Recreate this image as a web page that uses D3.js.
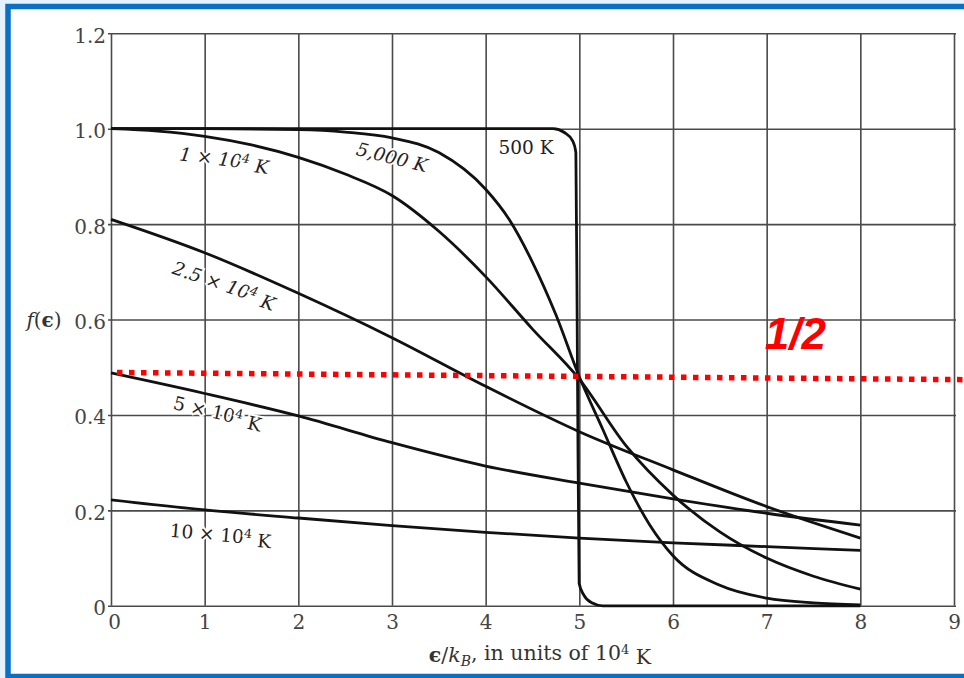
<!DOCTYPE html>
<html>
<head>
<meta charset="utf-8">
<script src="https://cdn.jsdelivr.net/npm/d3@7"></script>
<style>
  html, body { margin: 0; padding: 0; background: #e4f2fc; }
  svg { display: block; }
  .tick text { font-family: "DejaVu Serif", serif; font-size: 20px; fill: #444; }
</style>
</head>
<body>
<div id="chart"></div>
<script>
// Values: energy in units of 10^4 K, occupancy f.
const xTicks = [0, 1, 2, 3, 4, 5, 6, 7, 8, 9];
const yTicks = [0, 0.2, 0.4, 0.6, 0.8, 1.0, 1.2];
const yTickLabels = ["0", "0.2", "0.4", "0.6", "0.8", "1.0", "1.2"];

const x500 = [0, 1, 2, 3, 4, 4.5, 4.72, 4.84, 4.93, 4.963, 4.98, 4.998, 5.045, 5.132, 5.25, 6, 7, 8];
const f500 = [1, 1, 1, 1, 1, 1, 1, 0.992, 0.974, 0.95, 0.5, 0.047, 0.0235, 0.0063, 0, 0, 0, 0];

const x5000 = [0, 1, 2, 2.5, 3, 3.5, 4, 4.25, 4.5, 4.75, 5, 5.25, 5.5, 5.75, 6, 6.5, 7, 7.5, 8];
const f5000 = [1, 1, 0.998, 0.993, 0.981, 0.95, 0.873, 0.81, 0.72, 0.61, 0.48, 0.37, 0.26, 0.17, 0.105, 0.043, 0.016, 0.006, 0.002];

const x1e4 = [0, 0.5, 1, 1.5, 2, 2.5, 3, 3.5, 4, 4.5, 5, 5.5, 6, 6.5, 7, 7.5, 8];
const f1e4 = [1.0, 0.995, 0.984, 0.966, 0.94, 0.905, 0.86, 0.785, 0.69, 0.58, 0.475, 0.335, 0.232, 0.155, 0.1, 0.062, 0.035];

const xWide = [0, 1, 2, 3, 4, 5, 6, 7, 8];
const f25e4 = [0.81, 0.74, 0.655, 0.562, 0.46, 0.365, 0.285, 0.208, 0.142];
const f5e4 = [0.488, 0.445, 0.398, 0.342, 0.293, 0.257, 0.224, 0.194, 0.169];
const f10e4 = [0.222, 0.201, 0.184, 0.168, 0.154, 0.142, 0.132, 0.124, 0.116];

// curve labels: position in data units, rotation, text parts
const curveLabels = [
  { x: 1.21, y: 0.936, rot: 7, italic: true, main: "1 × 10", sup: "4", tail: " K" },
  { x: 1.21, y: 0.673, rot: 19, italic: true, main: "2.5 × 10", sup: "4", tail: " K" },
  { x: 3.0, y: 0.94, rot: 14, italic: true, main: "5,000 K", sup: "", tail: "" },
  { x: 4.43, y: 0.961, rot: 0, italic: false, main: "500 K", sup: "", tail: "" },
  { x: 1.14, y: 0.405, rot: 13, italic: false, main: "5 × 10", sup: "4", tail: " K" },
  { x: 1.17, y: 0.149, rot: 5, italic: false, main: "10 × 10", sup: "4", tail: " K" }
];

// red hand-drawn "1/2" marker
const halfX = [0.064, 9.1];
const halfY = [0.489, 0.474];
const halfText = { x: 6.98, y: 0.539, text: "1/2" };

const width = 964, height = 678;
const plotLeft = 111, plotRight = 954, plotTop = 33.3, plotBottom = 605.8;

const svg = d3.select("#chart").append("svg")
  .attr("width", width)
  .attr("height", height);

// slide frame
svg.append("rect")
  .attr("x", 8).attr("y", 6.5)
  .attr("width", 1000).attr("height", 670)
  .attr("fill", "white")
  .attr("stroke", "#0b6fc3")
  .attr("stroke-width", 5.5);

const x = d3.scaleLinear().domain([0, 9]).range([plotLeft, plotRight]);
const y = d3.scaleLinear().domain([0, 1.2]).range([plotBottom, plotTop]);

// grid
svg.append("g")
  .attr("transform", "translate(0," + plotBottom + ")")
  .call(d3.axisBottom(x).tickValues(xTicks).tickSize(-(plotBottom - plotTop)).tickFormat(""))
  .call(g => g.select(".domain").remove())
  .call(g => g.selectAll("line").attr("stroke", "#4a4a4a").attr("stroke-width", 1.6));

svg.append("g")
  .attr("transform", "translate(" + (plotLeft - 3) + ",0)")
  .call(d3.axisLeft(y).tickValues(yTicks).tickSize(-(plotRight - plotLeft + 5)).tickFormat(""))
  .call(g => g.select(".domain").remove())
  .call(g => g.selectAll("line").attr("stroke", "#4a4a4a").attr("stroke-width", 1.6));

// tick labels
svg.append("g")
  .attr("transform", "translate(" + plotLeft + ",0)")
  .call(d3.axisLeft(y).tickValues(yTicks).tickSize(0).tickPadding(5)
    .tickFormat((d, i) => yTickLabels[i]))
  .call(g => g.select(".domain").remove())
  .call(g => g.selectAll("text").attr("dy", "0.45em"));

svg.append("g")
  .attr("transform", "translate(0," + plotBottom + ")")
  .call(d3.axisBottom(x).tickValues(xTicks).tickSize(0).tickPadding(9).tickFormat(d3.format("d")))
  .call(g => g.select(".domain").remove())
  .call(g => g.selectAll("text").attr("dx", (d) => d === 0 ? "0.15em" : 0));

// curve labels, white halo breaks the grid under them (drawn before the curves)
const lab = svg.append("g").selectAll("text")
  .data(curveLabels)
  .enter()
  .append("text")
    .attr("transform", d => "translate(" + x(d.x) + "," + y(d.y) + ") rotate(" + d.rot + ")")
    .attr("text-anchor", "middle")
    .attr("dy", "0.35em")
    .attr("font-family", "DejaVu Serif, serif")
    .attr("font-size", 18.5)
    .attr("font-style", d => d.italic ? "italic" : "normal")
    .attr("fill", "#222")
    .attr("stroke", "white")
    .attr("stroke-width", 4)
    .attr("paint-order", "stroke");

lab.append("tspan").text(d => d.main);
lab.append("tspan").attr("dy", "-0.45em").attr("font-size", 12.5).text(d => d.sup);
lab.append("tspan").attr("dy", d => d.sup ? "0.45em" : 0).text(d => d.tail);

// curves
const series = [
  { xs: x500, fs: f500 },
  { xs: x5000, fs: f5000 },
  { xs: x1e4, fs: f1e4 },
  { xs: xWide, fs: f25e4 },
  { xs: xWide, fs: f5e4 },
  { xs: xWide, fs: f10e4 }
];

const line = d3.line()
  .x(d => x(d[0]))
  .y(d => y(d[1]))
  .curve(d3.curveMonotoneX);

svg.append("g").selectAll("path")
  .data(series)
  .enter()
  .append("path")
    .attr("d", s => line(s.xs.map((v, i) => [v, s.fs[i]])))
    .attr("fill", "none")
    .attr("stroke", "#111")
    .attr("stroke-width", 2.8)
    .attr("stroke-linejoin", "round");

// axis titles
const xt = svg.append("text")
  .attr("x", 540).attr("y", 662)
  .attr("text-anchor", "middle")
  .attr("font-family", "DejaVu Serif, serif")
  .attr("font-size", 20.5)
  .attr("fill", "#333");
xt.append("tspan").attr("font-weight", "bold").text("ϵ");
xt.append("tspan").text("/");
xt.append("tspan").attr("font-style", "italic").text("k");
xt.append("tspan").attr("font-style", "italic").attr("font-size", 14).attr("dy", "0.3em").text("B");
xt.append("tspan").attr("dy", "-0.3em").text(", in units of 10");
xt.append("tspan").attr("font-size", 13).attr("dy", "-0.5em").text("4");
xt.append("tspan").attr("dy", "0.5em").text(" K");

const yt = svg.append("text")
  .attr("x", 44).attr("y", 327)
  .attr("text-anchor", "middle")
  .attr("font-family", "DejaVu Serif, serif")
  .attr("font-size", 20)
  .attr("fill", "#333");
yt.append("tspan").attr("font-style", "italic").text("f");
yt.append("tspan").text("(");
yt.append("tspan").attr("font-weight", "bold").text("ϵ");
yt.append("tspan").text(")");

// red one-half marker
svg.append("line")
  .attr("x1", x(halfX[0])).attr("y1", y(halfY[0]))
  .attr("x2", x(halfX[1])).attr("y2", y(halfY[1]))
  .attr("stroke", "#ff0000")
  .attr("stroke-width", 5.5)
  .attr("stroke-dasharray", "5.5,6.5");

svg.append("text")
  .attr("x", x(halfText.x)).attr("y", y(halfText.y))
  .attr("font-family", "Liberation Sans, Arial, sans-serif")
  .attr("font-size", 44)
  .attr("font-weight", "bold")
  .attr("font-style", "italic")
  .attr("fill", "#ff0000")
  .text(halfText.text);
</script>
</body>
</html>
